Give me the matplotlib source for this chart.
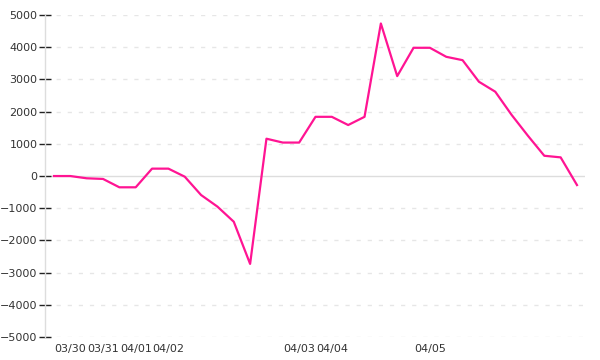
import matplotlib
matplotlib.use('Agg')
import matplotlib.pyplot as plt

# values per sample point (equally spaced categories)
values = [0, 0, -70, -90, -350, -350, 230, 230, -20, -590, -950, -1420, -2730,
          1160, 1040, 1040, 1840, 1840, 1585, 1840, 4740, 3105, 3985, 3985,
          3705, 3600, 2930, 2620, 1900, 1250, 630, 580, -280]
# x tick labels, empty where no label is shown
x_labels = ['', '03/30', '', '03/31', '', '04/01', '', '04/02', '', '', '', '', '',
            '', '', '04/03', '', '04/04', '', '', '', '', '', '04/05',
            '', '', '', '', '', '', '', '', '']
y_ticks = [-5000, -4000, -3000, -2000, -1000, 0, 1000, 2000, 3000, 4000, 5000]

plt.rcParams['font.family'] = 'DejaVu Sans'
fig = plt.figure(figsize=(6, 3.6), dpi=100)
ax = fig.add_axes([0.075, 0.064, 0.9, 0.894])

x = list(range(len(values)))
ax.plot(x, values, color='#ff1493', linewidth=1.6, zorder=3)

ax.set_xlim(-0.55, len(values) - 1 + 0.49)
ax.set_ylim(-5000, 5000)

for v in y_ticks:
    if v == 0:
        ax.axhline(v, color='#dddddd', linewidth=1, zorder=1)
    else:
        ax.axhline(v, color='#e6e6e6', linewidth=1, linestyle=(0, (3, 5)), zorder=1)

ax.set_yticks(y_ticks)
ax.set_yticklabels([str(v).replace('-', '\u2212') for v in y_ticks])
tick_pos = [i for i, lab in enumerate(x_labels) if lab]
ax.set_xticks(tick_pos)
ax.set_xticklabels([x_labels[i] for i in tick_pos])

for side in ['top', 'right', 'bottom']:
    ax.spines[side].set_visible(False)
ax.spines['left'].set_color('#dddddd')
ax.spines['left'].set_linewidth(1)

ax.tick_params(axis='y', direction='inout', length=9, width=1, color='#222222',
               labelsize=8, labelcolor='#333333', pad=1)
ax.tick_params(axis='x', length=0, labelsize=8, labelcolor='#333333', pad=5)

fig.savefig('out.png', dpi=100)
